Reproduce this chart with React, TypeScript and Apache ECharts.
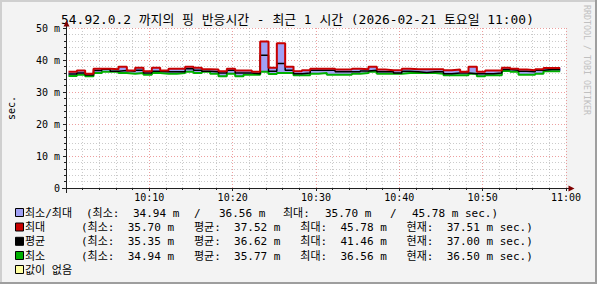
import React, { useEffect, useRef } from 'react';
import * as echarts from 'echarts';

const TITLE = '54.92.0.2 까지의 핑 반응시간 - 최근 1 시간 (2026-02-21 토요일 11:00)';
const X_LABELS = ['', '10:10', '10:20', '10:30', '10:40', '10:50', '11:00'];
const SAMPLE_START = 0.3; // minutes after 10:00 of the first consolidated sample

const maxVals = [
  36.3, 36.7, 35.7, 37.3, 37.3, 37.1, 37.9, 36.7, 37.6, 36.5,
  37.6, 36.7, 37.3, 37.3, 37.9, 37.6, 37.1, 37.0, 36.5, 37.3,
  36.7, 36.7, 36.3, 45.78, 37.6, 45.2, 37.9, 36.5, 36.8, 37.3,
  37.3, 37.3, 37.0, 37.0, 37.3, 37.1, 37.9, 37.0, 36.8, 36.8,
  37.3, 37.1, 37.1, 37.1, 37.1, 36.8, 37.0, 36.3, 37.9, 36.3,
  36.7, 36.7, 37.6, 37.3, 37.0, 36.8, 37.1, 37.51, 37.51, 37.51,
];
const avgVals = [
  35.6, 35.9, 35.35, 36.7, 37.1, 36.5, 36.7, 36.5, 36.8, 35.9,
  36.5, 36.3, 36.3, 36.3, 37.3, 36.8, 36.5, 36.3, 35.9, 36.8,
  35.9, 35.9, 35.7, 41.46, 36.5, 38.9, 36.8, 35.7, 35.9, 36.8,
  36.8, 36.8, 36.3, 36.3, 36.3, 36.6, 36.8, 36.3, 36.3, 35.9,
  36.5, 36.3, 36.1, 36.3, 36.3, 35.7, 35.9, 35.9, 35.7, 35.7,
  35.7, 35.9, 37.0, 36.8, 36.5, 36.3, 36.8, 37.0, 37.0, 37.0,
];
const minVals = [
  35.0, 35.4, 34.94, 35.9, 36.3, 36.3, 35.9, 35.7, 35.9, 35.4,
  35.9, 35.7, 35.7, 35.9, 36.3, 35.9, 36.3, 35.7, 34.95, 35.7,
  34.95, 35.4, 35.4, 36.3, 35.6, 35.9, 35.9, 35.2, 35.2, 35.7,
  35.9, 35.4, 35.4, 35.4, 35.7, 35.9, 36.3, 35.7, 35.7, 35.7,
  35.9, 35.9, 35.9, 35.9, 35.7, 35.2, 35.2, 35.2, 35.7, 34.95,
  35.2, 35.2, 36.56, 36.3, 35.4, 35.4, 35.7, 36.5, 36.5, 36.5,
];

// legend statistics
const bandMinStats = [34.94, 36.56]; // min / max of the min series
const bandMaxStats = [35.7, 45.78]; // min / max of the max series
const maxStats = [35.7, 37.52, 45.78, 37.51]; // min, avg, max, current
const avgStats = [35.35, 36.62, 41.46, 37.0];
const minStats = [34.94, 35.77, 36.56, 36.5];

const MONO = "'DejaVu Sans Mono', 'Noto Sans CJK KR', monospace";
const C_BAND = '#a0a0f4';
const C_MAX = '#c80000';
const C_AVG = '#000000';
const C_MIN = '#00b000';

const f = (v: number) => v.toFixed(2);

function statLine(s: number[]) {
  return `(최소:  ${f(s[0])} m   평균:  ${f(s[1])} m   최대:  ${f(s[2])} m   현재:  ${f(s[3])} m sec.)`;
}

function txt(x: number, y: number, text: string, font: string, extra: any = {}) {
  return {
    type: 'text', x, y, silent: true, ...extra,
    style: {
      text, font, fill: extra.fill || '#000',
      textAlign: extra.align || 'left', align: extra.align || 'left',
      textVerticalAlign: 'middle', verticalAlign: 'middle',
    },
  };
}

function buildOption() {
  const times = maxVals.map((_, i) => i + SAMPLE_START);
  const pair = (arr: number[]) => arr.map((v, i) => [times[i], v]);
  const steps = maxVals.slice(0, -1).map((v, i) => [times[i], times[i + 1], minVals[i], v]);

  const LF = `11px ${MONO}`;
  const rowY = [213, 227.5, 241.8, 256, 270];
  const swatches = [C_BAND, C_MAX, C_AVG, C_MIN, '#ffffa0'];
  const labels = ['최소/최대', '최대', '평균', '최소', '값이 없음'];

  const graphics: any[] = [
    { type: 'rect', shape: { x: 0, y: 0, width: 597, height: 2 }, style: { fill: '#cfcfcf' }, silent: true },
    { type: 'rect', shape: { x: 0, y: 0, width: 2, height: 284 }, style: { fill: '#cfcfcf' }, silent: true },
    { type: 'rect', shape: { x: 595, y: 0, width: 2, height: 284 }, style: { fill: '#9e9e9e' }, silent: true },
    { type: 'rect', shape: { x: 0, y: 282, width: 597, height: 2 }, style: { fill: '#9e9e9e' }, silent: true },
    txt(297.5, 19, TITLE, `12.9px ${MONO}`, { align: 'center' }),
    txt(587, 60, 'RRDTOOL / TOBI OETIKER', `8.3px ${MONO}`, { align: 'center', rotation: -Math.PI / 2, fill: '#c0c0c0' }),
    txt(11, 108, 'sec.', `10px ${MONO}`, { align: 'center', rotation: Math.PI / 2 }),
    // axis lines with their extensions and arrows
    { type: 'line', shape: { x1: 66.5, y1: 22, x2: 66.5, y2: 193 }, style: { stroke: '#202020', lineWidth: 1 }, silent: true, z: 10 },
    { type: 'line', shape: { x1: 62, y1: 188.5, x2: 570, y2: 188.5 }, style: { stroke: '#202020', lineWidth: 1 }, silent: true, z: 10 },
    { type: 'polygon', shape: { points: [[63.5, 26.5], [69.5, 26.5], [66.5, 20.5]] }, style: { fill: '#7f0000' }, silent: true, z: 11 },
    { type: 'polygon', shape: { points: [[568.5, 185.5], [568.5, 191.5], [574.5, 188.5]] }, style: { fill: '#7f0000' }, silent: true, z: 11 },
  ];

  rowY.forEach((y, i) => {
    graphics.push({
      type: 'rect', shape: { x: 15.5, y: y - 4.5, width: 8, height: 8 },
      style: { fill: swatches[i], stroke: '#000', lineWidth: 1 }, silent: true,
    });
    graphics.push(txt(25, y, labels[i], LF));
  });
  // band row, items placed one by one
  const y0 = rowY[0];
  graphics.push(txt(86, y0, '(최소:', LF));
  graphics.push(txt(133, y0, `${f(bandMinStats[0])} m`, LF));
  graphics.push(txt(194, y0, '/', LF));
  graphics.push(txt(219, y0, `${f(bandMinStats[1])} m`, LF));
  graphics.push(txt(283, y0, '최대:', LF));
  graphics.push(txt(325, y0, `${f(bandMaxStats[0])} m`, LF));
  graphics.push(txt(390, y0, '/', LF));
  graphics.push(txt(412, y0, `${f(bandMaxStats[1])} m sec.)`, LF));
  graphics.push(txt(81, rowY[1], statLine(maxStats), LF));
  graphics.push(txt(81, rowY[2], statLine(avgStats), LF));
  graphics.push(txt(81, rowY[3], statLine(minStats), LF));

  const gridMajor = { color: 'rgba(222,80,80,0.55)', type: [1, 2] as any, width: 1 };
  const gridMinor = { color: 'rgba(140,140,140,0.45)', type: [1, 2] as any, width: 1 };

  return {
    animation: false,
    backgroundColor: '#f3f3f3',
    grid: { left: 66, right: 31, top: 28, bottom: 96, show: true, backgroundColor: '#ffffff', borderWidth: 0 },
    xAxis: {
      type: 'value', min: 0, max: 60, interval: 10,
      axisLine: { show: false },
      axisTick: { show: true, length: 3, lineStyle: { color: '#202020' } },
      minorTick: { show: true, splitNumber: 5, length: 2, lineStyle: { color: '#202020' } },
      axisLabel: {
        formatter: (v: number) => X_LABELS[Math.round(v / 10)] ?? '',
        fontFamily: MONO, fontSize: 10, color: '#000', margin: 4,
        showMinLabel: true, showMaxLabel: true, hideOverlap: false,
      },
      splitLine: { show: true, lineStyle: gridMajor },
      minorSplitLine: { show: true, lineStyle: gridMinor },
    },
    yAxis: {
      type: 'value', min: 0, max: 50, interval: 10,
      axisLine: { show: false },
      axisTick: { show: true, length: 3, lineStyle: { color: '#202020' } },
      minorTick: { show: true, splitNumber: 5, length: 2, lineStyle: { color: '#202020' } },
      axisLabel: {
        formatter: (v: number) => (v === 0 ? '0' : `${v} m`),
        fontFamily: MONO, fontSize: 10, color: '#000', margin: 6,
      },
      splitLine: { show: true, lineStyle: gridMajor },
      minorSplitLine: { show: true, lineStyle: gridMinor },
    },
    series: [
      {
        name: '최소/최대', type: 'custom', z: 2, silent: true, clip: true,
        encode: { x: [0, 1], y: [2, 3] },
        data: steps,
        renderItem: (_p: any, api: any) => {
          const a = api.coord([api.value(0), api.value(3)]);
          const b = api.coord([api.value(1), api.value(2)]);
          return {
            type: 'rect',
            shape: { x: a[0], y: a[1], width: b[0] - a[0] + 0.6, height: b[1] - a[1] },
            style: { fill: C_BAND },
          };
        },
      },
      { name: '최소', type: 'line', step: 'end', symbol: 'none', data: pair(minVals), lineStyle: { color: C_MIN, width: 2 }, z: 3 },
      { name: '평균', type: 'line', step: 'end', symbol: 'none', data: pair(avgVals), lineStyle: { color: C_AVG, width: 1.5 }, z: 4 },
      { name: '최대', type: 'line', step: 'end', symbol: 'none', data: pair(maxVals), lineStyle: { color: C_MAX, width: 2 }, z: 5 },
    ],
    graphic: { elements: graphics },
  };
}

export default function App() {
  const ref = useRef<HTMLDivElement>(null);
  useEffect(() => {
    if (!ref.current) return;
    const chart = echarts.init(ref.current, null, { renderer: 'svg' });
    chart.setOption(buildOption() as any);
    return () => chart.dispose();
  }, []);
  return <div ref={ref} style={{ position: 'fixed', left: 0, top: 0, width: 597, height: 284 }} />;
}
